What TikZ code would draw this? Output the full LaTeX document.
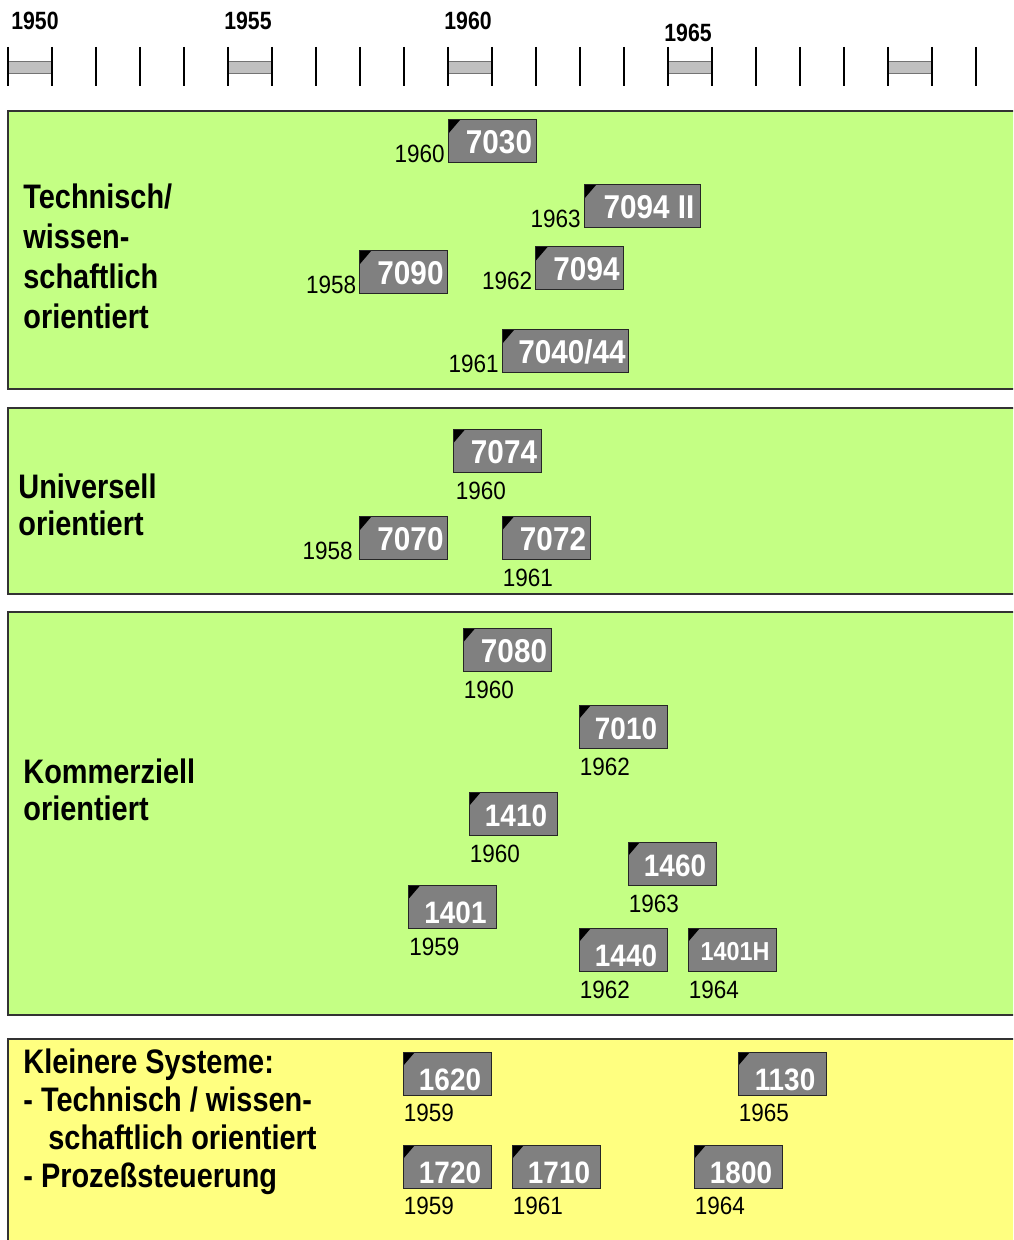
\documentclass[tikz,border=0pt]{standalone}
\usepackage{fontspec}
\setmainfont{Liberation Sans}
\newfontfamily\narrowsf[FakeStretch=0.9]{Liberation Sans}
\newfontfamily\titlesf[FakeStretch=0.85]{Liberation Sans}
\usetikzlibrary{positioning}
\definecolor{techgreen}{HTML}{C4FF84}
\definecolor{smallyellow}{HTML}{FFFF80}
\definecolor{boxgray}{HTML}{808080}
\definecolor{bargray}{HTML}{C0C0C0}
\tikzset{
  textpad/.store in=\boxpad, textpad=7pt,
  panel/.style={draw=black!80, line width=0.6pt},
  title/.style={anchor=west, align=left, inner sep=0pt,
    font=\titlesf\bfseries\fontsize{17}{#1}\selectfont},
  model/.style={draw=black!85, line width=0.5pt, fill=boxgray, text=white,
    inner sep=0pt, minimum width=44pt, minimum height=21.5pt,
    text depth=0pt, text height=12.5pt,
    font=\narrowsf\bfseries\fontsize{16.5}{18}\selectfont,
    execute at begin node={\hspace*{\boxpad}},
    path picture={\fill[black] (path picture bounding box.north west)
      -- ++(6pt,0) -- ++(-6pt,-7pt) -- cycle;}},
  smaller/.style={font=\narrowsf\bfseries\fontsize{15.5}{18}\selectfont,
    text height=13pt, textpad=3pt},
  lowtext/.style={smaller, text height=17pt},
  year/.style={inner sep=0pt, font=\narrowsf\fontsize{12.5}{14}\selectfont},
  yearhead/.style={inner sep=0pt, font=\titlesf\bfseries\fontsize{12.5}{14}\selectfont},
  tick/.style={line width=1pt},
  bar/.style={fill=bargray, draw=black!55, line width=0.4pt}
}
\begin{document}
\begin{tikzpicture}[x=0.5pt, y=-0.5pt]
 \useasboundingbox (0,0) rectangle (1013,1240);
 \clip (0,0) rectangle (1013,1240);
 % time axis, one tick per year
 \foreach \k in {0,5,...,20}
  \draw[bar] ({8+44*\k},61) rectangle ({52+44*\k},73);
 \foreach \k in {0,...,22}
  \draw[tick] ({8+44*\k},47) -- ({8+44*\k},86);
 \foreach \yr/\xx/\yy in {1950/35/21, 1955/248/21, 1960/468/21, 1965/688/33}
  \node[yearhead] (h\yr) at (\xx,\yy) {\yr};
 % panels
 \draw[panel, fill=techgreen] (8,111) rectangle (1030,389);
 \draw[panel, fill=techgreen] (8,408) rectangle (1030,594);
 \draw[panel, fill=techgreen] (8,612) rectangle (1030,1015);
 \draw[panel, fill=smallyellow] (8,1039) rectangle (1030,1260);
 \node[title=20pt] (tech) at (23,256) {Technisch/\\wissen-\\schaftlich\\orientiert};
 \node[title=18.5pt] (univ) at (18,505) {Universell\\orientiert};
 \node[title=18.5pt] (komm) at (23,790) {Kommerziell\\orientiert};
 \node[title=19pt] (klein) at (23,1122)
  {Kleinere Systeme:\\- Technisch / wissen-\\\hspace*{12.5pt}schaftlich orientiert\\- Prozeßsteuerung};
 % technisch-wissenschaftlich
 \node[model] (m7030) at (492,141.5) {7030};
 \node[model, minimum width=58pt] (m7094II) at (642,206.5) {7094 II};
 \node[model] (m7090) at (403.5,272) {7090};
 \node[model] (m7094) at (579.5,268.5) {7094};
 \node[model, minimum width=63pt] (m7040) at (565,351.5) {7040/44};
 \node[year, left=1.2pt of m7030.south west, anchor=south east] (y7030) {1960};
 \node[year, left=1.2pt of m7094II.south west, anchor=south east] (y7094II) {1963};
 \node[year, left=1.2pt of m7090.south west, anchor=south east] (y7090) {1958};
 \node[year, left=1.2pt of m7094.south west, anchor=south east] (y7094) {1962};
 \node[year, left=1.2pt of m7040.south west, anchor=south east] (y7040) {1961};
 % universell
 \node[model] (m7074) at (497,451) {7074};
 \node[model] (m7070) at (403.5,538) {7070};
 \node[model] (m7072) at (546,538) {7072};
 \node[year, below right=4.5pt and 1.5pt of m7074.south west] (y7074) {1960};
 \node[year, left=3pt of m7070.south west, anchor=south east] (y7070) {1958};
 \node[year, below right=4.5pt and 0.5pt of m7072.south west] (y7072) {1961};
 % kommerziell
 \node[model] (m7080) at (507,650) {7080};
 \node[model, smaller] (m7010) at (623,726.5) {7010};
 \node[model, smaller] (m1410) at (513,813.5) {1410};
 \node[model, smaller] (m1460) at (672,863.5) {1460};
 \node[model, lowtext] (m1401) at (452.5,906.5) {1401};
 \node[model, lowtext] (m1440) at (623,949.5) {1440};
 \node[model, font=\narrowsf\bfseries\fontsize{13}{15}\selectfont, text height=11pt,
  textpad=3pt] (m1401H) at (732,949.5) {1401H};
 \foreach \m/\yr in {7080/1960, 7010/1962, 1410/1960, 1460/1963, 1401/1959, 1440/1962, 1401H/1964}
  \node[year, below right=4.5pt and 0.5pt of m\m.south west] (y\m) {\yr};
 % kleinere Systeme
 \node[model, lowtext] (m1620) at (447,1073.5) {1620};
 \node[model, lowtext] (m1130) at (782,1073.5) {1130};
 \node[model, lowtext] (m1720) at (447,1166.5) {1720};
 \node[model, lowtext] (m1710) at (556,1166.5) {1710};
 \node[model, lowtext] (m1800) at (738,1166.5) {1800};
 \foreach \m/\yr in {1620/1959, 1130/1965, 1720/1959, 1710/1961, 1800/1964}
  \node[year, below right=4pt and 0.5pt of m\m.south west] (y\m) {\yr};
\end{tikzpicture}
\end{document}
